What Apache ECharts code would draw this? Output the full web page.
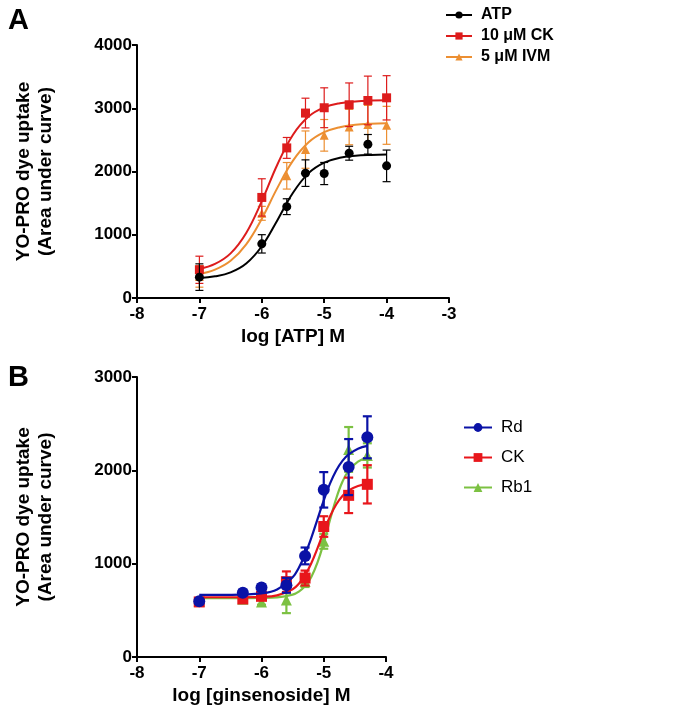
<!DOCTYPE html>
<html><head><meta charset="utf-8">
<script src="https://cdn.jsdelivr.net/npm/echarts@6/dist/echarts.min.js"></script>
<style>html,body{margin:0;padding:0;background:#fff}#c{width:690px;height:720px}</style>
</head><body><div id="c"></div>
<script>
// ---------- Panel A data ----------
const xA = [-7, -6, -5.6, -5.3, -5, -4.6, -4.3, -4];
const atpMean = [330, 856, 1444, 1974, 1968, 2289, 2430, 2089];
const atpErr  = [210, 145, 125, 210, 175, 110, 155, 250];
const ckAMean = [446, 1590, 2373, 2924, 3008, 3055, 3123, 3165];
const ckAErr  = [215, 295, 165, 235, 315, 345, 385, 350];
const ivmMean = [341, 1339, 1932, 2346, 2572, 2703, 2745, 2730];
const ivmErr  = [170, 110, 210, 295, 250, 280, 300, 300];
const curveXA = [-7, -6.75, -6.5, -6.25, -6, -5.75, -5.5, -5.25, -5, -4.75, -4.5, -4.25, -4];
const atpCurve = [317, 343, 405, 545, 818, 1231, 1664, 1974, 2140, 2216, 2248, 2261, 2267];
const ckACurve = [460, 538, 705, 1028, 1532, 2111, 2582, 2869, 3013, 3080, 3108, 3121, 3126];
const ivmCurve = [379, 448, 588, 849, 1254, 1741, 2171, 2461, 2621, 2701, 2739, 2756, 2764];
const namesA = ['ATP', '10 \u03bcM CK', '5 \u03bcM IVM'];
const yTicksA = [0, 1000, 2000, 3000, 4000];
const xTicksA = [-8, -7, -6, -5, -4, -3];

// ---------- Panel B data ----------
const xB = [-7, -6.3, -6, -5.6, -5.3, -5, -4.6, -4.3];
const rdMean = [598, 689, 744, 768, 1083, 1791, 2035, 2354];
const rdErr  = [20, 30, 30, 80, 90, 190, 300, 225];
const ckBMean = [590, 622, 650, 807, 846, 1398, 1732, 1850];
const ckBErr  = [20, 25, 25, 110, 80, 110, 190, 205];
const rb1Mean = [600, 620, 590, 610, 810, 1240, 2224, 2160];
const rb1Err  = [20, 25, 30, 140, 60, 80, 240, 130];
const curveXB = [-7, -6.5, -6, -5.75, -5.5, -5.4, -5.3, -5.2, -5.1, -5, -4.9, -4.8, -4.7, -4.6, -4.45, -4.3];
const rdCurve  = [665, 666, 682, 723, 854, 957, 1098, 1276, 1478, 1679, 1857, 1998, 2101, 2170, 2232, 2262];
const ckBCurve = [640, 640, 645, 661, 726, 785, 876, 1005, 1167, 1343, 1505, 1634, 1725, 1784, 1832, 1854];
const rb1Curve = [630, 630, 632, 638, 668, 701, 759, 858, 1013, 1225, 1469, 1698, 1877, 1997, 2094, 2134];
const namesB = ['Rd', 'CK', 'Rb1'];
const yTicksB = [0, 1000, 2000, 3000];
const xTicksB = [-8, -7, -6, -5, -4];

const zip2 = (xs, ys) => xs.map((x, i) => [x, ys[i]]);
const zip3 = (xs, ys, es) => xs.map((x, i) => [x, ys[i], es[i]]);

function errRender(capHalf, width, color) {
  return function (params, api) {
    const x = api.value(0), m = api.value(1), e = api.value(2);
    const t = api.coord([x, m + e]), b = api.coord([x, m - e]);
    const style = { stroke: color, lineWidth: width, fill: null };
    return { type: 'group', children: [
      { type: 'line', shape: { x1: t[0], y1: t[1], x2: b[0], y2: b[1] }, style },
      { type: 'line', shape: { x1: t[0] - capHalf, y1: t[1], x2: t[0] + capHalf, y2: t[1] }, style },
      { type: 'line', shape: { x1: b[0] - capHalf, y1: b[1], x2: b[0] + capHalf, y2: b[1] }, style }
    ]};
  };
}

const FONT = 'Liberation Sans, Arial, sans-serif';
const axisLine = { show: true, lineStyle: { color: '#000', width: 2 } };
const axisTick = { show: true, inside: false, length: 5, lineStyle: { color: '#000', width: 2 } };
const xLabel = { color: '#000', fontFamily: FONT, fontWeight: 'bold', fontSize: 17, margin: 8 };
const yLabel = { color: '#000', fontFamily: FONT, fontWeight: 'bold', fontSize: 17, margin: 5,
  formatter: v => String(v) };
const nameStyle = { fontFamily: FONT, fontWeight: 'bold', fontSize: 19, color: '#000' };
const yName = 'YO-PRO dye uptake\n(Area under curve)';

function groupA(name, color, symbol, size, mean, err, curve, z) {
  return [
    { type: 'line', name: name, xAxisIndex: 0, yAxisIndex: 0, data: zip2(curveXA, curve),
      smooth: 0.4, showSymbol: false, symbol: symbol, symbolSize: size, itemStyle: { color },
      lineStyle: { color, width: 2 }, z: z, silent: true },
    { type: 'custom', xAxisIndex: 0, yAxisIndex: 0, data: zip3(xA, mean, err),
      encode: { x: 0, y: 1 }, renderItem: errRender(4, 1.2, color), z: z, silent: true },
    { type: 'scatter', xAxisIndex: 0, yAxisIndex: 0, data: zip2(xA, mean), symbol: symbol,
      symbolSize: size, itemStyle: { color, opacity: 1 }, z: z + 1, silent: true }
  ];
}
function groupB(name, color, symbol, size, mean, err, curve, z) {
  return [
    { type: 'line', name: name, xAxisIndex: 1, yAxisIndex: 1, data: zip2(curveXB, curve),
      smooth: 0.4, showSymbol: false, symbol: symbol, symbolSize: size, itemStyle: { color },
      lineStyle: { color, width: 2.2 }, z: z, silent: true },
    { type: 'custom', xAxisIndex: 1, yAxisIndex: 1, data: zip3(xB, mean, err),
      encode: { x: 0, y: 1 }, renderItem: errRender(4.5, 2.2, color), z: z, silent: true },
    { type: 'scatter', xAxisIndex: 1, yAxisIndex: 1, data: zip2(xB, mean), symbol: symbol,
      symbolSize: size, itemStyle: { color, opacity: 1 }, z: z + 1, silent: true }
  ];
}

const colA = ['#000000', '#dd1c1c', '#ec8f32'];
const colB = ['#0a12a6', '#e8161b', '#7cc142'];

const chart = echarts.init(document.getElementById('c'), null, { renderer: 'canvas' });
chart.setOption({
  animation: false,
  backgroundColor: '#fff',
  textStyle: { fontFamily: FONT },
  title: [
    { text: 'A', left: 3, top: 1, textStyle: { fontSize: 29, fontWeight: 'bold', color: '#000', fontFamily: FONT } },
    { text: 'B', left: 3, top: 358, textStyle: { fontSize: 29, fontWeight: 'bold', color: '#000', fontFamily: FONT } }
  ],
  legend: [
    { data: namesA, orient: 'vertical', left: 440, top: 2, itemGap: 5, itemWidth: 26, itemHeight: 9,
      textStyle: { fontSize: 16, fontWeight: 'bold', color: '#000', fontFamily: FONT, padding: [0, 0, 0, 4] },
      selectedMode: false },
    { data: namesB, orient: 'vertical', left: 458, top: 414, itemGap: 13, itemWidth: 28, itemHeight: 11,
      textStyle: { fontSize: 17, color: '#000', fontFamily: FONT, padding: [0, 0, 0, 4] },
      selectedMode: false }
  ],
  grid: [
    { left: 137, top: 45, width: 312, height: 253 },
    { left: 137, top: 377, width: 249, height: 280 }
  ],
  xAxis: [
    { type: 'value', gridIndex: 0, min: xTicksA[0], max: xTicksA[xTicksA.length - 1], interval: 1,
      axisLine, axisTick, axisLabel: xLabel, splitLine: { show: false },
      name: 'log [ATP] M', nameLocation: 'middle', nameGap: 29, nameTextStyle: nameStyle },
    { type: 'value', gridIndex: 1, min: xTicksB[0], max: xTicksB[xTicksB.length - 1], interval: 1,
      axisLine, axisTick, axisLabel: xLabel, splitLine: { show: false },
      name: 'log [ginsenoside] M', nameLocation: 'middle', nameGap: 29, nameTextStyle: nameStyle }
  ],
  yAxis: [
    { type: 'value', gridIndex: 0, min: yTicksA[0], max: yTicksA[yTicksA.length - 1], interval: 1000,
      axisLine, axisTick, axisLabel: yLabel, splitLine: { show: false },
      name: yName, nameLocation: 'middle', nameGap: 80, nameRotate: 90,
      nameTextStyle: Object.assign({ lineHeight: 22 }, nameStyle) },
    { type: 'value', gridIndex: 1, min: yTicksB[0], max: yTicksB[yTicksB.length - 1], interval: 1000,
      axisLine, axisTick, axisLabel: yLabel, splitLine: { show: false },
      name: yName, nameLocation: 'middle', nameGap: 80, nameRotate: 90,
      nameTextStyle: Object.assign({ lineHeight: 22 }, nameStyle) }
  ],
  series: [].concat(
    groupA(namesA[2], colA[2], 'triangle', 9, ivmMean, ivmErr, ivmCurve, 2),
    groupA(namesA[1], colA[1], 'rect', 9, ckAMean, ckAErr, ckACurve, 4),
    groupA(namesA[0], colA[0], 'circle', 9, atpMean, atpErr, atpCurve, 6),
    groupB(namesB[2], colB[2], 'triangle', 11, rb1Mean, rb1Err, rb1Curve, 2),
    groupB(namesB[1], colB[1], 'rect', 11, ckBMean, ckBErr, ckBCurve, 4),
    groupB(namesB[0], colB[0], 'circle', 12, rdMean, rdErr, rdCurve, 6)
  )
});
</script>
</body></html>
